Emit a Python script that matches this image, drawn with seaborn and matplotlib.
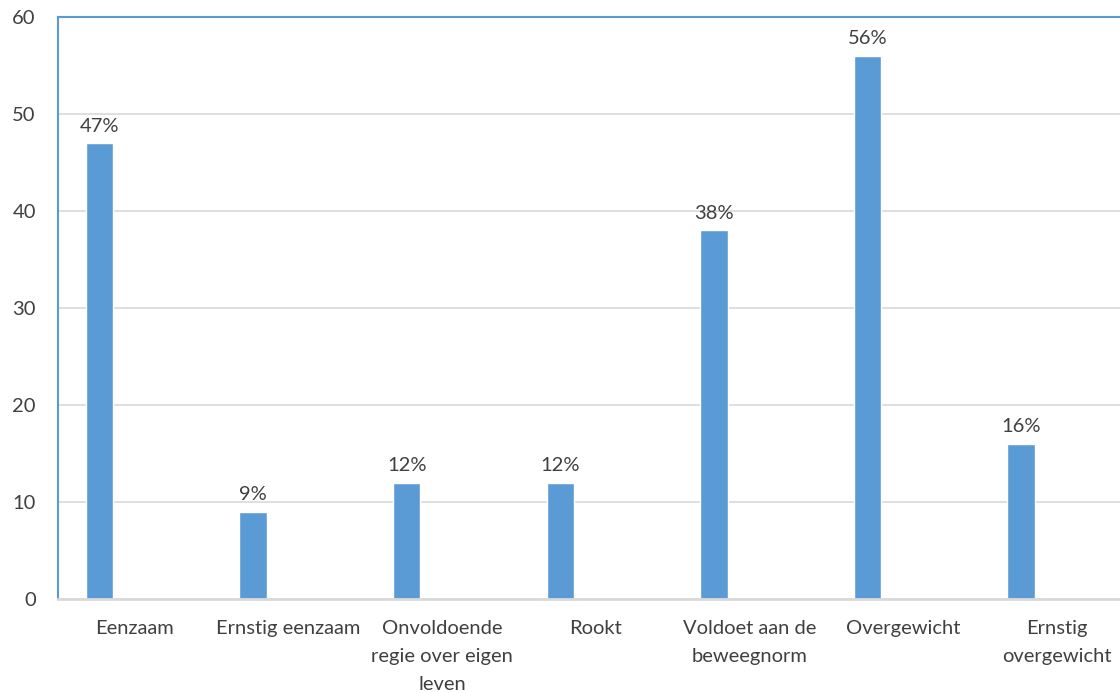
import matplotlib
matplotlib.use("Agg")
import matplotlib.pyplot as plt
import seaborn as sns
import pandas as pd

# -----------------------------------------
#  Data
# -----------------------------------------

CATEGORIES = [
    "Eenzaam",
    "Ernstig eenzaam",
    "Onvoldoende\nregie over eigen\nleven",
    "Rookt",
    "Voldoet aan de\nbeweegnorm",
    "Overgewicht",
    "Ernstig\novergewicht",
]
VALUES = [47, 9, 12, 12, 38, 56, 16]

BAR_COLOR = "#5B9BD5"
TEXT_COLOR = "#404040"
BAR_WIDTH = 0.178
BAR_SHIFT = -0.23
FONT_SIZE = 14.5

# -----------------------------------------
#  Style
# -----------------------------------------

sns.set_theme(style="white")
plt.rcParams["font.family"] = ["Lato", "DejaVu Sans"]

df = pd.DataFrame({"cat": CATEGORIES, "val": VALUES})

fig = plt.figure(figsize=(11.2, 6.93), dpi=100)
ax = fig.add_axes([0.0518, 0.1356, 0.96, 0.84])

sns.barplot(data=df, x="cat", y="val", color=BAR_COLOR, saturation=1,
            width=BAR_WIDTH, ax=ax)

# push bars to the left part of each slot, like the original
for p in ax.patches:
    p.set_x(p.get_x() + BAR_SHIFT)

ax.bar_label(ax.containers[0], labels=[f"{v}%" for v in VALUES],
             padding=6, fontsize=FONT_SIZE, color=TEXT_COLOR)

ax.set_ylim(0, 60)
ax.set_xlim(-0.5, len(CATEGORIES) - 0.5)
ax.set_yticks(range(0, 61, 10))
ax.yaxis.grid(True, color="#d9d9d9", linewidth=1.2)
ax.set_axisbelow(True)

ax.set_xlabel("")
ax.set_ylabel("")
ax.tick_params(axis="both", length=0, labelsize=FONT_SIZE, colors=TEXT_COLOR)
ax.tick_params(axis="x", pad=15)
ax.tick_params(axis="y", pad=16)

for side in ["left", "top", "right"]:
    ax.spines[side].set_color(BAR_COLOR)
    ax.spines[side].set_linewidth(1.5)
ax.spines["bottom"].set_color("#d9d9d9")
ax.spines["bottom"].set_linewidth(2)

# tick labels are built lazily, so fix their line spacing after a draw
fig.canvas.draw()
for tick in ax.xaxis.get_major_ticks():
    tick.label1.set_linespacing(1.8)
    tick.label1.set_verticalalignment("top")

fig.savefig("out.png", dpi=100)
